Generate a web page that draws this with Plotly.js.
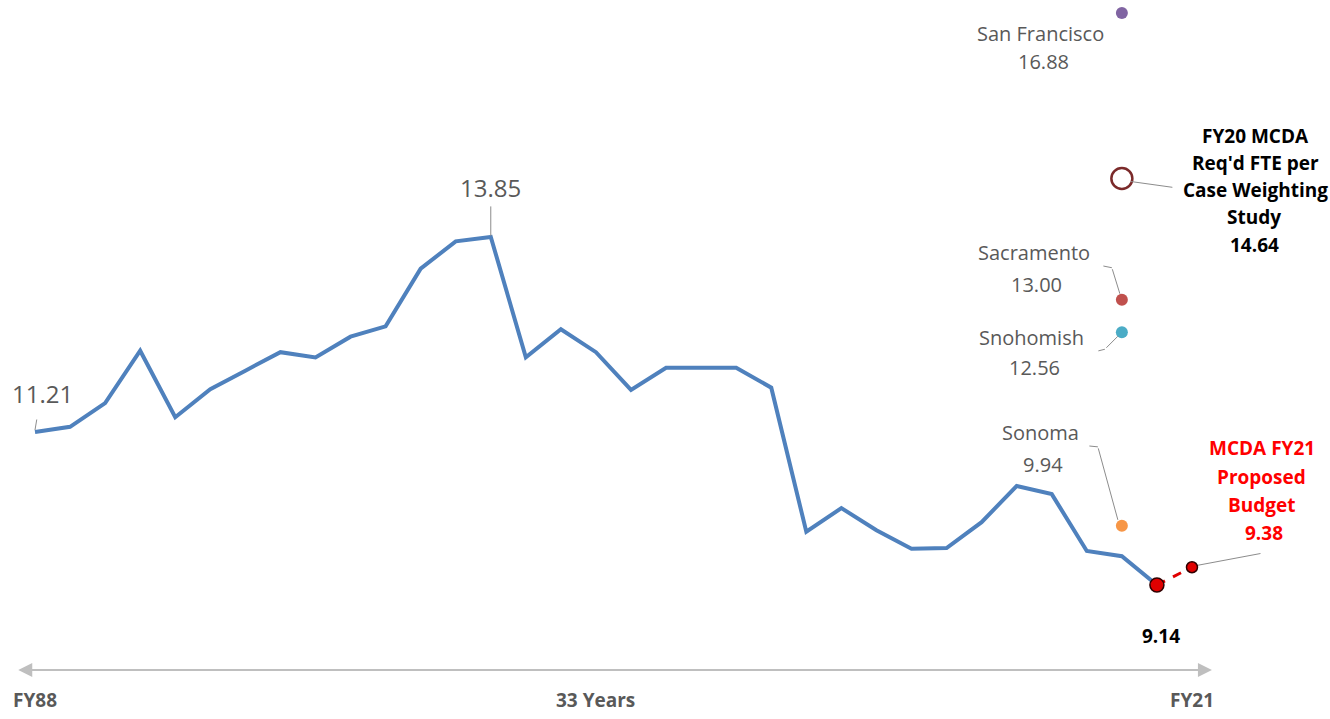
<!DOCTYPE html>
<html>
<head>
<meta charset="utf-8">
<script src="https://cdn.plot.ly/plotly-3.0.1.min.js"></script>
<style>
html,body{margin:0;padding:0;background:#fff;}
#chart{width:1330px;height:719px;}
</style>
</head>
<body>
<div id="chart"></div>
<script>
// ---- data ----
const years = ['FY88','FY89','FY90','FY91','FY92','FY93','FY94','FY95','FY96','FY97','FY98','FY99','FY00','FY01','FY02','FY03','FY04','FY05','FY06','FY07','FY08','FY09','FY10','FY11','FY12','FY13','FY14','FY15','FY16','FY17','FY18','FY19','FY20'];
const ftePerCase = [11.21,11.28,11.60,12.31,11.41,11.79,12.04,12.29,12.22,12.50,12.64,13.42,13.79,13.85,12.22,12.60,12.29,11.78,12.08,12.08,12.08,11.81,9.86,10.18,9.88,9.63,9.64,9.99,10.48,10.37,9.60,9.53,9.14];
const proposedYears = ['FY20','FY21'];
const proposedValues = [9.14, 9.38];
const proposedName = ['MCDA FY21', 'Proposed', 'Budget'];
const compNames = ['San Francisco','Sacramento','Snohomish','Sonoma'];
const compValues = [16.88, 13.00, 12.56, 9.94];
const compColors = ['#8064a2','#c0504d','#4bacc6','#f79646'];
const studyName = ["FY20 MCDA", "Req'd FTE per", "Case Weighting", "Study"];
const studyValue = 14.64;
const axisLabels = ['FY88','33 Years','FY21'];
const axisLabelPos = [0, 16, 33];

// index positions
const xIdx = years.map((_, i) => i);
const propIdx = [years.indexOf('FY20'), years.length];
const compIdx = years.indexOf('FY19');

const FONT = '"Open Sans", Lato, sans-serif';
const gray = '#595959';
const lead = '#8c8c8c';

const traces = [
  {x: xIdx, y: ftePerCase, mode: 'lines', line: {color: '#4f81bd', width: 4}, hoverinfo: 'skip'},
  {x: propIdx, y: proposedValues, mode: 'lines',
   line: {color: '#e00000', width: 3, dash: 'dash'}},
  {x: propIdx, y: proposedValues, mode: 'markers',
   marker: {color: '#e00000', opacity: 1, size: [14, 11], line: {color: '#300000', width: 1.5}}},
  {x: compNames.map(() => compIdx), y: compValues, mode: 'markers',
   marker: {color: compColors, size: 12, opacity: 1}},
  {x: [compIdx], y: [studyValue], mode: 'markers',
   marker: {symbol: 'circle-open', color: '#7b2a2a', size: 21, line: {width: 2.5}}}
];

const ann = [];
function textLines(x, y, lines, xs, ys, font) {
  lines.forEach((t, i) => ann.push({x, y, text: t, showarrow: false, xshift: xs[i], yshift: ys[i], font}));
}
function leader(x, y, pts) {
  for (let i = 0; i < pts.length - 1; i++) {
    const p0 = pts[i], p1 = pts[i + 1];
    ann.push({x, y, text: '', showarrow: true, arrowhead: 0, arrowwidth: 1, arrowcolor: lead, standoff: 0,
      xshift: p0[0], yshift: -p0[1], ax: p1[0] - p0[0], ay: p1[1] - p0[1]});
  }
}
const fGray = {family: FONT, size: 20, color: gray};
const fBig = {family: FONT, size: 24, color: gray};
const fBold = {family: FONT, size: 19, color: '#000'};
const fRed = {family: FONT, size: 19, color: '#ff0000'};

// first and max labels
const maxI = ftePerCase.indexOf(Math.max(...ftePerCase));
textLines(0, ftePerCase[0], [ftePerCase[0].toFixed(2)], [7], [39], fBig);
leader(0, ftePerCase[0], [[0, -2], [2, -14]]);
textLines(maxI, ftePerCase[maxI], [ftePerCase[maxI].toFixed(2)], [0], [49], fBig);
leader(maxI, ftePerCase[maxI], [[0, -1], [0, -32]]);

// comparison labels
const compText = [[-81, -78, -21, -49], [-88, -85, 47, 15], [-90, -87, -5, -35], [-81, -79, 93, 61]];
const compLeaders = [null, [[-2, -6], [-10, -32], [-20, -34]], [[-4, 4], [-17, 17], [-25, 19]], [[-4, -6], [-24, -79], [-34, -80]]];
compNames.forEach((n, i) => {
  const o = compText[i];
  textLines(compIdx, compValues[i], [n, compValues[i].toFixed(2)], [o[0], o[1]], [o[2], o[3]], fGray);
  if (compLeaders[i]) leader(compIdx, compValues[i], compLeaders[i]);
});

// study label
textLines(compIdx, studyValue, studyName.concat([studyValue.toFixed(2)]).map(t => '<b>' + t + '</b>'),
  [134, 134, 134, 132, 133], [43, 16, -11, -38, -66], fBold);
leader(compIdx, studyValue, [[9, 3], [52, 9]]);

// end value
textLines(propIdx[0], proposedValues[0], ['<b>' + proposedValues[0].toFixed(2) + '</b>'], [4], [-51], fBold);

// proposed label
textLines(propIdx[1], proposedValues[1], proposedName.concat([proposedValues[1].toFixed(2)]).map(t => '<b>' + t + '</b>'),
  [70, 70, 70, 72], [119, 90, 62, 34], fRed);
leader(propIdx[1], proposedValues[1], [[6, -2], [70, -14]]);

// axis labels
axisLabels.forEach((t, i) => ann.push({x: axisLabelPos[i], y: 0, yref: 'paper', yanchor: 'middle', yshift: 19,
  text: '<b>' + t + '</b>', showarrow: false, font: {family: FONT, size: 19, color: gray}}));

// double-headed timeline arrow
const arrY = 7.99, arrL = -0.52, arrR = 33.57;
ann.push({x: arrR, y: arrY, ax: arrL, ay: arrY, axref: 'x', ayref: 'y', text: '', showarrow: true,
  arrowside: 'end+start', arrowhead: 2, startarrowhead: 2, arrowsize: 1.4, startarrowsize: 1.4,
  arrowwidth: 2, arrowcolor: '#bfbfbf'});

const pxPerIdx = 35.06, x0px = 35, pxPerUnit = 73.9, y0px = 432;
const layout = {
  width: 1330, height: 719,
  margin: {l: 0, r: 0, t: 0, b: 0},
  paper_bgcolor: '#fff', plot_bgcolor: '#fff',
  showlegend: false,
  xaxis: {range: [-x0px / pxPerIdx, (1330 - x0px) / pxPerIdx], visible: false, fixedrange: true},
  yaxis: {range: [ftePerCase[0] - (719 - y0px) / pxPerUnit, ftePerCase[0] + y0px / pxPerUnit], visible: false, fixedrange: true},
  annotations: ann
};
Plotly.newPlot('chart', traces, layout, {displayModeBar: false, staticPlot: true});
</script>
</body>
</html>
